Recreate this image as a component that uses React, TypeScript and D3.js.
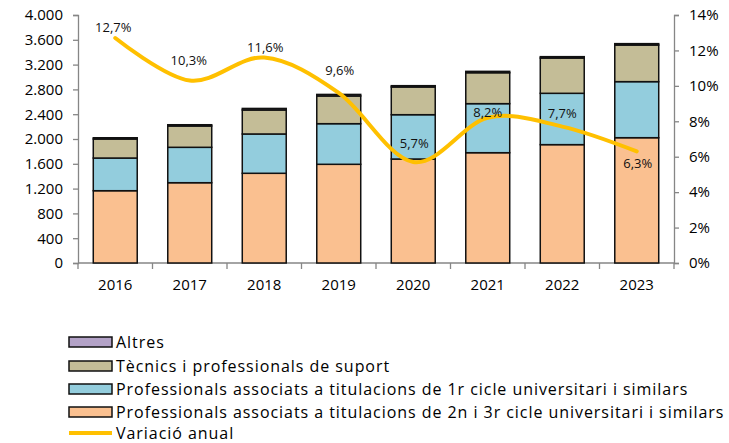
import { useRef, useEffect } from "react";
import * as d3 from "d3";

const years = ["2016", "2017", "2018", "2019", "2020", "2021", "2022", "2023"];
const professionals2n3r = [1166, 1295, 1447, 1592, 1677, 1779, 1909, 2021];
const professionals1r = [527, 571, 634, 655, 715, 791, 828, 904];
const tecnics = [307, 344, 387, 447, 447, 499, 569, 591];
const altres = [20, 20, 25, 25, 21, 22, 22, 22];
const variacio = [12.7, 10.3, 11.6, 9.6, 5.7, 8.2, 7.7, 6.3];

const seriesNames = [
    "Professionals associats a titulacions de 2n i 3r cicle universitari i similars",
    "Professionals associats a titulacions de 1r cicle universitari i similars",
    "Tècnics i professionals de suport",
    "Altres"
];
const lineName = "Variació anual";
const leftTicks = [0, 400, 800, 1200, 1600, 2000, 2400, 2800, 3200, 3600, 4000];
const rightTicks = [0, 2, 4, 6, 8, 10, 12, 14];

const colors = ["#FAC090", "#93CDDD", "#C4BD97", "#B3A2C7"];
const lineColor = "#FFC000";
// label offsets (dx, dy) relative to each line point, as placed in the original
const labelOffsets: [number, number][] = [[-2, -11], [-1, -20], [1, -10], [1, -22], [1, -19], [0, -5], [0, -13], [1, 12]];

const W = 729, H = 443;
const margin = { left: 78, right: 55, top: 15, bottom: 180 };
const font = "'Open Sans', sans-serif";

export default function App() {
    const svgRef = useRef<SVGSVGElement>(null);

    useEffect(() => {
        document.body.style.margin = "0";
        const svg = d3.select(svgRef.current as SVGSVGElement);
        svg.selectAll("*").remove();

        const x0 = margin.left, x1 = W - margin.right;
        const y0 = H - margin.bottom, y1 = margin.top;

        const x = d3.scaleBand().domain(years).range([x0, x1]).paddingInner(0.41).paddingOuter(0.205);
        const step = (x1 - x0) / years.length;
        const xc = (i: number) => x0 + step * (i + 0.5);
        const y = d3.scaleLinear().domain([0, 4000]).range([y0, y1]);
        const yr = d3.scaleLinear().domain([0, 14]).range([y0, y1]);

        const loc = d3.formatLocale({ decimal: ",", thousands: ".", grouping: [3], currency: ["", "€"] });
        const fmt = loc.format(",d");

        const axisColor = "#868686";

        // left axis
        const gl = svg.append("g").attr("transform", `translate(${x0},0)`)
            .call(d3.axisLeft(y).tickValues(leftTicks).tickFormat(d => fmt(d as number)).tickSize(5).tickPadding(10));
        // right axis
        const gr = svg.append("g").attr("transform", `translate(${x1},0)`)
            .call(d3.axisRight(yr).tickValues(rightTicks).tickFormat(d => `${d}%`).tickSize(5).tickPadding(10));
        [gl, gr].forEach(g => {
            g.select(".domain").attr("stroke", axisColor).attr("stroke-width", 1.3);
            g.selectAll(".tick line").attr("stroke", axisColor).attr("stroke-width", 1.3);
            g.selectAll(".tick text").attr("font-family", font).attr("font-size", 15).attr("fill", "#000");
        });

        // x axis
        const gx = svg.append("g");
        gx.append("line").attr("x1", x0).attr("x2", x1).attr("y1", y0).attr("y2", y0)
            .attr("stroke", axisColor).attr("stroke-width", 1.3);
        d3.range(years.length + 1).forEach(i => {
            gx.append("line").attr("x1", x0 + step * i).attr("x2", x0 + step * i)
                .attr("y1", y0).attr("y2", y0 + 6).attr("stroke", axisColor).attr("stroke-width", 1.3);
        });
        gx.selectAll("text").data(years).join("text")
            .attr("x", (_, i) => xc(i)).attr("y", y0 + 27)
            .attr("text-anchor", "middle").attr("font-family", font).attr("font-size", 15).attr("fill", "#000")
            .text(d => d);

        // stacked bars
        const table = years.map((yr_, i) => ({
            year: yr_, s0: professionals2n3r[i], s1: professionals1r[i], s2: tecnics[i], s3: altres[i]
        }));
        const stack = d3.stack<any>().keys(["s0", "s1", "s2", "s3"])(table);
        stack.forEach((layer, k) => {
            svg.append("g").selectAll("rect").data(layer).join("rect")
                .attr("x", d => x(d.data.year) as number)
                .attr("width", x.bandwidth())
                .attr("y", d => y(d[1]))
                .attr("height", d => y(d[0]) - y(d[1]))
                .attr("fill", colors[k])
                .attr("stroke", "#111")
                .attr("stroke-width", 1.5);
        });

        // line
        const line = d3.line<number>().x((_, i) => xc(i)).y(d => yr(d)).curve(d3.curveCardinal);
        svg.append("path").datum(variacio).attr("d", line)
            .attr("fill", "none").attr("stroke", lineColor).attr("stroke-width", 4).attr("stroke-linecap", "round");

        svg.append("g").selectAll("text").data(variacio).join("text")
            .attr("x", (_, i) => xc(i) + labelOffsets[i][0])
            .attr("y", (d, i) => yr(d) + labelOffsets[i][1])
            .attr("dy", "0.35em")
            .attr("text-anchor", "middle").attr("font-family", font).attr("font-size", 13).attr("fill", "#111")
            .text(d => `${d.toFixed(1).replace(".", ",")}%`);

        // legend
        const legend = svg.append("g");
        const legendRows = [3, 2, 1, 0];
        const rowY = [342, 366, 389, 412, 433];
        legendRows.forEach((k, r) => {
            legend.append("rect").attr("x", 69).attr("y", rowY[r] - 5).attr("width", 43).attr("height", 10)
                .attr("fill", colors[k]).attr("stroke", "#111").attr("stroke-width", 1.5);
            legend.append("text").attr("x", 116).attr("y", rowY[r]).attr("dy", "0.35em")
                .attr("font-family", font).attr("font-size", 16).attr("letter-spacing", 0.95)
                .attr("fill", "#000").text(seriesNames[k]);
        });
        legend.append("line").attr("x1", 69).attr("x2", 112).attr("y1", rowY[4]).attr("y2", rowY[4])
            .attr("stroke", lineColor).attr("stroke-width", 4);
        legend.append("text").attr("x", 116).attr("y", rowY[4]).attr("dy", "0.35em")
            .attr("font-family", font).attr("font-size", 16).attr("letter-spacing", 0.95)
            .attr("fill", "#000").text(lineName);
    }, []);

    return <svg ref={svgRef} width={W} height={H} style={{ display: "block", background: "#fff" }} />;
}
